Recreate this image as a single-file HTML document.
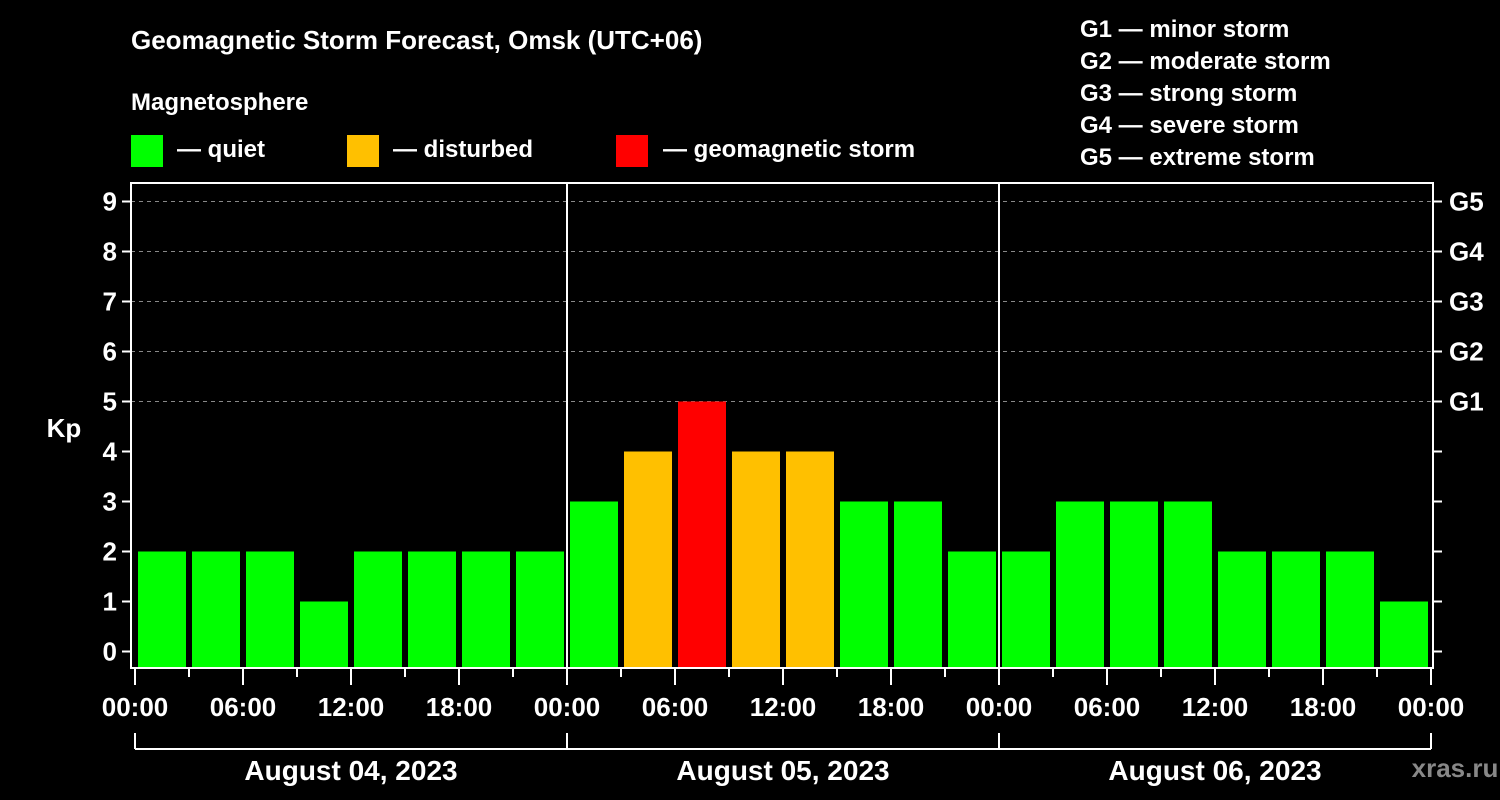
<!DOCTYPE html>
<html><head><meta charset="utf-8"><style>
html,body{margin:0;padding:0;background:#000;}
svg{display:block;font-family:"Liberation Sans",Arial,sans-serif;font-weight:bold;}
</style></head><body>
<svg id="chart" width="1500" height="800" viewBox="0 0 1500 800">
<rect x="0" y="0" width="1500" height="800" fill="#000"/>
<text x="131" y="49" fill="#fff" font-size="26">Geomagnetic Storm Forecast, Omsk (UTC+06)</text>
<text x="131" y="110" fill="#fff" font-size="24">Magnetosphere</text>
<g><rect x="131" y="135" width="32" height="32" fill="#00ff00"/><text x="177" y="157" fill="#fff" font-size="24">— quiet</text></g>
<g><rect x="347" y="135" width="32" height="32" fill="#ffc000"/><text x="393" y="157" fill="#fff" font-size="24">— disturbed</text></g>
<g><rect x="616" y="135" width="32" height="32" fill="#ff0000"/><text x="663" y="157" fill="#fff" font-size="24">— geomagnetic storm</text></g>
<g fill="#fff" font-size="24">
<text x="1080" y="37">G1 — minor storm</text>
<text x="1080" y="69">G2 — moderate storm</text>
<text x="1080" y="101">G3 — strong storm</text>
<text x="1080" y="133">G4 — severe storm</text>
<text x="1080" y="165">G5 — extreme storm</text>
</g>
<text x="64" y="437" fill="#fff" font-size="26" text-anchor="middle">Kp</text>
<text x="1455" y="777" fill="#888" font-size="26" text-anchor="middle">xras.ru</text>
<g id="grid"></g><g id="bars"></g><g id="axes"></g>
</svg>
<script>
const kpValues = [2,2,2,1,2,2,2,2, 3,4,5,4,4,3,3,2, 2,3,3,3,2,2,2,1];
const yTicks = [0,1,2,3,4,5,6,7,8,9];
const gLabels = ["G1","G2","G3","G4","G5"];
const xTickLabels = ["00:00","06:00","12:00","18:00","00:00","06:00","12:00","18:00","00:00","06:00","12:00","18:00","00:00"];
const dayLabels = ["August 04, 2023","August 05, 2023","August 06, 2023"];

const NS = "http://www.w3.org/2000/svg";
const X0 = 135, SLOT = 54, Y0 = 651.5, UNIT = 50, TOP = 183, BOT = 668, LEFT = 131, RIGHT = 1433;
const yS = v => Y0 - v * UNIT;
const xS = i => X0 + i * SLOT;
function mk(tag, attrs, parent) {
  const e = document.createElementNS(NS, tag);
  for (const k in attrs) e.setAttribute(k, attrs[k]);
  parent.appendChild(e);
  return e;
}
const grid = document.getElementById("grid"), bars = document.getElementById("bars"), axes = document.getElementById("axes");
const color = v => v >= 5 ? "#ff0000" : (v >= 4 ? "#ffc000" : "#00ff00");

yTicks.forEach(v => {
  if (v >= 5) {
    const l = mk("line", {x1: LEFT, x2: RIGHT, y1: yS(v), y2: yS(v), stroke: "#888", "stroke-width": 1, "stroke-dasharray": "4,4"}, grid);
    
    
  }
  mk("line", {x1: 122, x2: LEFT, y1: yS(v), y2: yS(v), stroke: "#fff", "stroke-width": 2}, axes);
  mk("line", {x1: RIGHT, x2: RIGHT + 9, y1: yS(v), y2: yS(v), stroke: "#fff", "stroke-width": 2}, axes);
  const t = mk("text", {x: 117, y: yS(v) + 9, fill: "#fff", "font-size": 26, "text-anchor": "end"}, axes);
  t.textContent = v;
  
  
  if (v >= 5) {
    const g = mk("text", {x: 1449, y: yS(v) + 9, fill: "#fff", "font-size": 26}, axes);
    g.textContent = gLabels[v - 5];
    
    
  }
});

kpValues.forEach((v, i) => {
  const r = mk("rect", {x: xS(i) + 3, y: yS(v), width: 48, height: BOT - yS(v), fill: color(v)}, bars);
  
  
});

// frame
mk("rect", {x: LEFT, y: TOP, width: RIGHT - LEFT, height: BOT - TOP, fill: "none", stroke: "#fff", "stroke-width": 2}, axes);
[1, 2].forEach(d => mk("line", {x1: xS(d * 8), x2: xS(d * 8), y1: TOP, y2: BOT, stroke: "#fff", "stroke-width": 2}, axes));

for (let i = 0; i <= kpValues.length; i++) {
  const major = i % 2 === 0;
  mk("line", {x1: xS(i), x2: xS(i), y1: BOT, y2: major ? 685 : 677, stroke: "#fff", "stroke-width": 2}, axes);
}
xTickLabels.forEach((s, i) => {
  const t = mk("text", {x: xS(i * 2), y: 716, fill: "#fff", "font-size": 26, "text-anchor": "middle"}, axes);
  t.textContent = s;
  
  
});
mk("line", {x1: xS(0), x2: xS(24), y1: 749, y2: 749, stroke: "#fff", "stroke-width": 2}, axes);
for (let d = 0; d <= 3; d++) mk("line", {x1: xS(d * 8), x2: xS(d * 8), y1: 733, y2: 749, stroke: "#fff", "stroke-width": 2}, axes);
dayLabels.forEach((s, d) => {
  const t = mk("text", {x: xS(d * 8 + 4), y: 780, fill: "#fff", "font-size": 28, "text-anchor": "middle"}, axes);
  t.textContent = s;
  
  
});
</script>
</body></html>
